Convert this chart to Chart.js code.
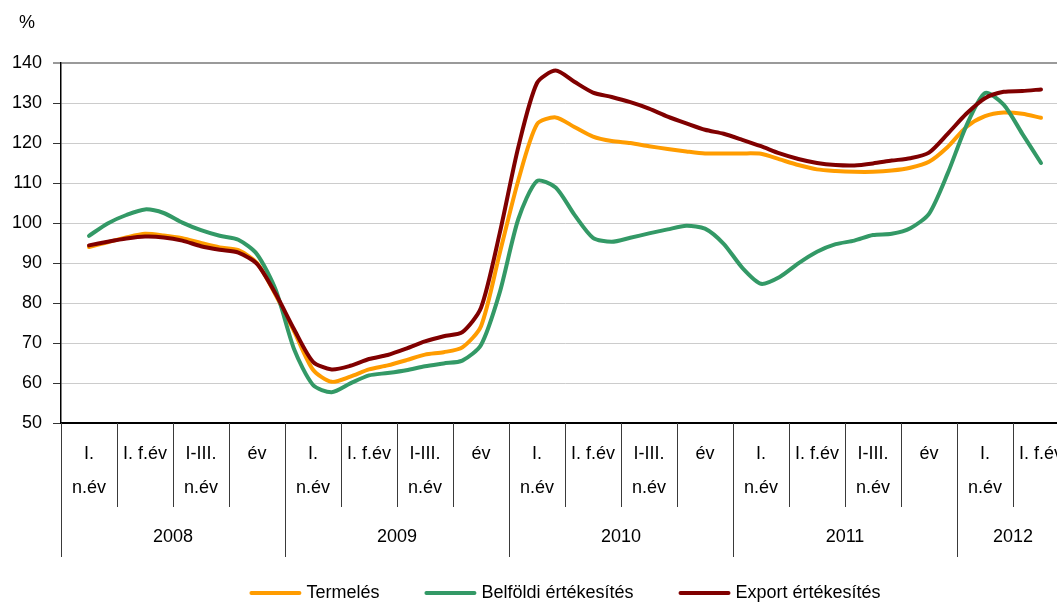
<!DOCTYPE html>
<html><head><meta charset="utf-8">
<script src="https://cdn.jsdelivr.net/npm/chart.js@4"></script>
<style>
html,body{margin:0;padding:0;background:#fff;overflow:hidden;}
#wrap{width:1057px;height:603px;overflow:hidden;position:relative;background:#fff;}
#c{position:absolute;left:0;top:0;}
</style></head><body>
<div id="wrap"><canvas id="c" width="1124" height="603"></canvas></div>
<script>
// Category (period) labels along the x axis, one per quarter-period
const quarterLabels = [
  ['I.','n.év'], ['I. f.év'], ['I-III.','n.év'], ['év'],
  ['I.','n.év'], ['I. f.év'], ['I-III.','n.év'], ['év'],
  ['I.','n.év'], ['I. f.év'], ['I-III.','n.év'], ['év'],
  ['I.','n.év'], ['I. f.év'], ['I-III.','n.év'], ['év'],
  ['I.','n.év'], ['I. f.év']
];
const years = ['2008','2009','2010','2011','2012'];
const yearSpans = [4,4,4,4,2];
const yUnit = '%';
const seriesNames = ['Termelés','Belföldi értékesítés','Export értékesítés'];
const seriesColors = ['#FF9C00','#339966','#800000'];

// Monthly readings (3 per period), from the start of 2008 to mid-2012
const termeles = [
  94.0, 95.2, 96.4, 97.3, 96.9, 96.2, 95.0, 93.9, 93.2, 90.0, 82.0, 72.8,
  63.3, 60.3, 61.6, 63.4, 64.4, 65.7, 67.1, 67.7, 68.9, 74.2, 92.4, 110.7,
  124.7, 126.4, 124.0, 121.6, 120.5, 120.0, 119.2, 118.5, 117.9, 117.4, 117.4, 117.4,
  117.3, 115.9, 114.5, 113.4, 113.0, 112.8, 112.8, 113.1, 113.8, 115.3, 119.0, 124.0,
  126.7, 127.6, 127.3, 126.3
];
const belfoldi = [
  96.8, 99.9, 102.0, 103.4, 102.5, 100.1, 98.2, 96.8, 95.8, 92.2, 83.3, 68.3,
  59.5, 57.7, 59.9, 61.9, 62.5, 63.2, 64.2, 64.9, 65.6, 69.5, 82.6, 101.0,
  110.5, 108.9, 102.1, 96.3, 95.3, 96.3, 97.4, 98.4, 99.3, 98.6, 94.8, 88.8,
  84.8, 86.5, 89.9, 92.8, 94.7, 95.6, 97.0, 97.3, 98.7, 102.3, 112.4, 124.3,
  132.5, 129.6, 122.3, 115.0
];
const exportErt = [
  94.4, 95.3, 96.1, 96.6, 96.4, 95.6, 94.2, 93.3, 92.6, 89.8, 82.3, 73.3,
  65.3, 63.4, 64.3, 66.0, 67.0, 68.6, 70.4, 71.7, 72.7, 78.8, 97.4, 119.0,
  135.0, 138.1, 135.3, 132.6, 131.5, 130.2, 128.6, 126.6, 124.9, 123.3, 122.3, 120.8,
  119.2, 117.4, 116.0, 115.0, 114.5, 114.4, 114.9, 115.6, 116.2, 117.6, 122.3, 127.3,
  131.2, 132.8, 133.0, 133.4
];

const FONT = '"Liberation Sans", Arial, Helvetica, sans-serif';
const toXY = arr => arr.map((v, i) => ({x: i / 3, y: v}));

const decor = {
  id: 'decor',
  afterDraw(chart) {
    const {ctx, chartArea: a, scales: {x}} = chart;
    ctx.save();
    // boundaries between periods and years
    const yearBounds = [0];
    yearSpans.forEach(s => yearBounds.push(yearBounds[yearBounds.length - 1] + s));
    ctx.strokeStyle = '#3a3a3a';
    ctx.lineWidth = 1;
    for (let i = 0; i <= quarterLabels.length; i++) {
      const px = Math.round(x.getPixelForValue(i - 0.5)) + 0.5;
      const len = yearBounds.includes(i) ? 134 : 84;
      ctx.beginPath();
      ctx.moveTo(px, a.bottom);
      ctx.lineTo(px, a.bottom + len);
      ctx.stroke();
    }
    ctx.fillStyle = '#000';
    ctx.font = '18px ' + FONT;
    ctx.textAlign = 'center';
    ctx.textBaseline = 'middle';
    quarterLabels.forEach((lab, i) => {
      const px = x.getPixelForValue(i);
      lab.forEach((t, j) => ctx.fillText(t, px, a.bottom + 31 + j * 34));
    });
    years.forEach((yr, k) => {
      const c = (yearBounds[k] + yearBounds[k + 1]) / 2 - 0.5;
      ctx.fillText(yr, x.getPixelForValue(c), a.bottom + 114);
    });
    // unit label
    ctx.fillText(yUnit, a.left - 34, a.top - 40);
    // legend
    const items = chart.data.datasets.map((d, i) => ({text: seriesNames[i], color: seriesColors[i]}));
    const lineLen = 52, gapText = 5, gapItem = 45;
    const widths = items.map(it => lineLen + gapText + ctx.measureText(it.text).width);
    const total = widths.reduce((s, w) => s + w, 0) + gapItem * (items.length - 1);
    let cx = (a.left + a.right) / 2 - total / 2;
    const ly = 593;
    ctx.textAlign = 'left';
    items.forEach((it, i) => {
      ctx.strokeStyle = it.color;
      ctx.lineWidth = 4;
      ctx.lineCap = 'round';
      ctx.beginPath();
      ctx.moveTo(cx + 2, ly);
      ctx.lineTo(cx + lineLen - 2, ly);
      ctx.stroke();
      ctx.fillText(it.text, cx + lineLen + gapText, ly);
      cx += widths[i] + gapItem;
    });
    ctx.restore();
  }
};

const mk = (data, i, order) => ({
  label: seriesNames[i],
  data: toXY(data),
  borderColor: seriesColors[i],
  backgroundColor: seriesColors[i],
  borderWidth: 4,
  pointRadius: 0,
  tension: 0.25,
  borderJoinStyle: 'round',
  borderCapStyle: 'round',
  fill: false,
  order: order
});

new Chart(document.getElementById('c'), {
  type: 'line',
  data: {
    datasets: [mk(termeles, 0, 2), mk(belfoldi, 1, 1), mk(exportErt, 2, 0)]
  },
  options: {
    responsive: false,
    animation: false,
    layout: {padding: {top: 63, right: 55, left: 0, bottom: 0}},
    plugins: {legend: {display: false}, tooltip: {enabled: false}},
    scales: {
      x: {
        type: 'linear', min: -0.5, max: 17.5,
        ticks: {display: false},
        grid: {display: false},
        border: {display: true, color: '#000', width: 1.5},
        afterFit: s => { s.height = 180; }
      },
      y: {
        min: 50, max: 140,
        ticks: {stepSize: 10, color: '#000', font: {family: FONT, size: 18}, padding: 11},
        grid: {
          color: c => c.tick && c.tick.value === 140 ? '#9a9a9a' : (c.tick && c.tick.value === 50 ? '#000' : '#cccccc'),
          lineWidth: c => c.tick && c.tick.value === 140 ? 2 : 1,
          tickLength: 8,
          tickColor: '#333',
          tickWidth: 1
        },
        border: {display: true, color: '#000', width: 1.5},
        afterFit: s => { s.width = 61; }
      }
    }
  },
  plugins: [decor]
});
</script>
</body></html>
